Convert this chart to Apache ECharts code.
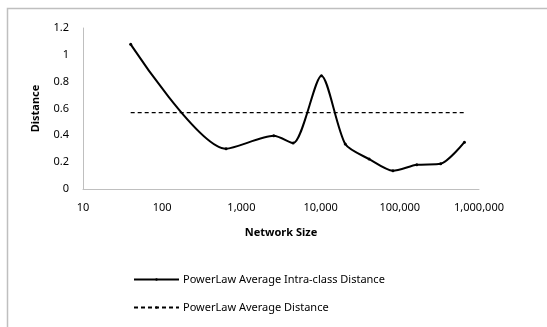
<!DOCTYPE html>
<html><head><meta charset="utf-8">
<script src="https://cdn.jsdelivr.net/npm/echarts@6/dist/echarts.min.js"></script>
<style>html,body{margin:0;padding:0;background:#fff}#c{width:547px;height:327px}</style>
</head><body><div id="c"></div>
<script>
var networkSizes = [40, 640, 2560, 4500, 10240, 20480, 40960, 81920, 163840, 327680, 655360];
var intraClass = [1.078, 0.30, 0.396, 0.342, 0.845, 0.335, 0.223, 0.136, 0.18, 0.188, 0.349];
var avgDistance = 0.57;
var avgRange = [40, 655360];
var seriesNames = ['PowerLaw Average Intra-class Distance', 'PowerLaw Average Distance'];

var font = 'Noto Sans';
var chart = echarts.init(document.getElementById('c'));
chart.setOption({
  animation: false,
  textStyle: {fontFamily: font},
  graphic: [{type: 'rect', shape: {x: 7.5, y: 8.5, width: 600, height: 400},
    style: {fill: 'none', stroke: '#bfbfbf', lineWidth: 1.5}, silent: true}],
  grid: {left: 83, right: 68, top: 28, bottom: 138, containLabel: false},
  xAxis: {
    type: 'log', logBase: 10, min: 10, max: 1000000,
    name: 'Network Size', nameLocation: 'middle', nameGap: 38,
    nameTextStyle: {fontWeight: 'bold', fontSize: 11, color: '#000', fontFamily: font},
    axisLine: {lineStyle: {color: '#bfbfbf', width: 1}},
    axisTick: {show: false}, splitLine: {show: false}, minorTick: {show: false},
    axisLabel: {fontSize: 11, color: '#000', margin: 13,
      formatter: function (v) { return Math.round(v).toLocaleString('en-US'); }}
  },
  yAxis: {
    type: 'value', min: 0, max: 1.2, interval: 0.2,
    name: 'Distance', nameLocation: 'middle', nameGap: 42, nameRotate: 90,
    nameTextStyle: {fontWeight: 'bold', fontSize: 11, color: '#000', fontFamily: font},
    axisLine: {show: true, lineStyle: {color: '#bfbfbf', width: 1}},
    axisTick: {show: false}, splitLine: {show: false},
    axisLabel: {fontSize: 11, color: '#000', margin: 14,
      formatter: function (v) { return String(Math.round(v * 10) / 10); }}
  },
  legend: {
    orient: 'vertical', left: 133, top: 274, padding: 0, itemWidth: 45, itemHeight: 3, itemGap: 17,
    textStyle: {fontSize: 11, color: '#000', fontFamily: font, padding: [0, 0, 0, -1]},
    data: seriesNames
  },
  series: [{
    name: seriesNames[0], type: 'line', smooth: 0.25,
    data: networkSizes.map(function (s, i) { return [s, intraClass[i]]; }),
    symbol: 'circle', symbolSize: 3, showSymbol: true,
    lineStyle: {color: '#000', width: 2}, itemStyle: {color: '#000'}
  }, {
    name: seriesNames[1], type: 'line',
    data: avgRange.map(function (s) { return [s, avgDistance]; }),
    symbol: 'none',
    lineStyle: {color: '#000', width: 1.3, type: [4, 3]}, itemStyle: {color: '#000'}
  }]
});
</script></body></html>
